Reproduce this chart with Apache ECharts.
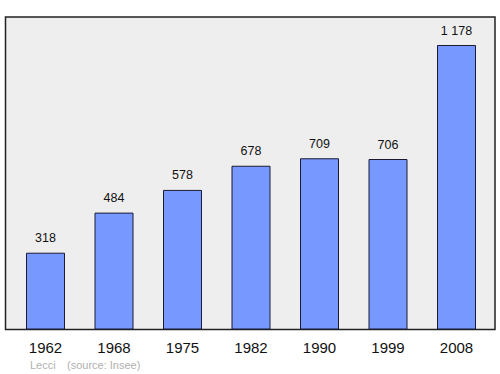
<!DOCTYPE html>
<html><head><meta charset="utf-8">
<script src="https://cdn.jsdelivr.net/npm/echarts@6/dist/echarts.min.js"></script>
<style>html,body{margin:0;padding:0;background:#fff}#c{width:500px;height:374px}</style>
</head><body><div id="c"></div>
<script>
const categories = ['1962','1968','1975','1982','1990','1999','2008'];
const population = [318, 484, 578, 678, 709, 706, 1178];
const townName = 'Lecci';
const sourceText = '(source: Insee)';

const FONT = '"Liberation Sans", Arial, sans-serif';
const chart = echarts.init(document.getElementById('c'), null, {renderer:'svg'});
chart.setOption({
  animation: false,
  graphic: [
    {type:'rect', shape:{x:5.5,y:17,width:489.5,height:312.5}, style:{fill:'#eeeeee', stroke:'#222', lineWidth:1.5}, z:-10, silent:true},
    {type:'text', left:30, top:359, style:{text:townName, fill:'#b0b0b0', font:'11px ' + FONT}},
    {type:'text', left:67, top:359, style:{text:sourceText, fill:'#b0b0b0', font:'11px ' + FONT}}
  ],
  grid: {left:11.25, width:479.5, top:17, bottom:44.5, containLabel:false},
  xAxis: {
    type:'category', data:categories,
    axisLine:{show:false}, axisTick:{show:false},
    axisLabel:{color:'#111', fontSize:15, margin:10, fontFamily:FONT}
  },
  yAxis: {type:'value', min:0, max:1294, show:false, splitLine:{show:false}},
  series: [{
    type:'bar', data:population, barWidth:39,
    itemStyle:{color:'#7799ff', borderColor:'#1a1a33', borderWidth:1},
    label:{show:true, position:'top', distance:8, color:'#111', fontSize:12.5,
      fontFamily:FONT,
      formatter:p => String(p.value).replace(/\B(?=(\d{3})+(?!\d))/g,' ')}
  }]
});
</script></body></html>
